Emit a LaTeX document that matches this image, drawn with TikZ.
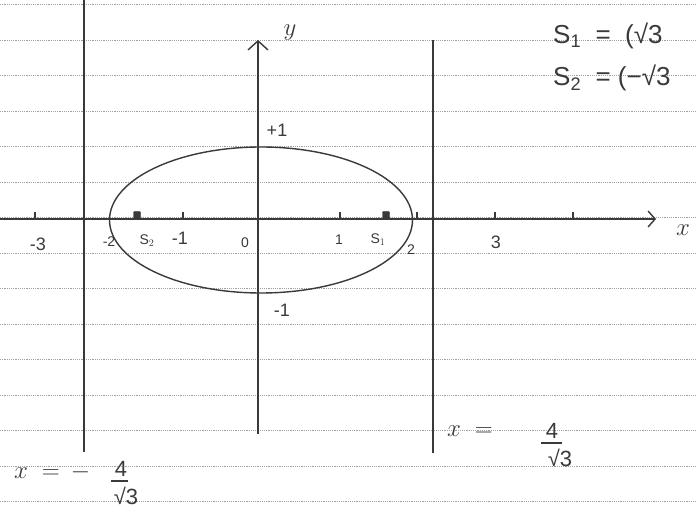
\documentclass[tikz,border=0pt]{standalone}
\usepackage{amsmath}
\usepackage{fontspec}
\setmainfont{Liberation Sans}
\usetikzlibrary{arrows.meta}
\definecolor{ink}{HTML}{3A3A3A}
\definecolor{rulegray}{HTML}{A0A0A0}
\begin{document}
\begin{tikzpicture}[x=1pt,y=-1pt,
  pencil/.style={draw=ink, line width=1.4pt},
  thin/.style={draw=ink, line width=1.3pt},
  ruleline/.style={draw=rulegray, line width=1pt, dash pattern=on 1.2pt off 1pt},
  tick/.style={draw=ink, line width=1.1pt},
  lbl/.style={text=ink, inner sep=0pt, font=\fontsize{18}{20}\selectfont},
  mid/.style={text=ink, inner sep=0pt, font=\fontsize{22}{24}\selectfont},
  big/.style={text=ink, inner sep=0pt, font=\fontsize{28}{32}\selectfont},
  corner/.style={text=ink, inner sep=0pt, font=\fontsize{26}{30}\selectfont},
  small/.style={text=ink, inner sep=0pt, font=\fontsize{14}{16}\selectfont},
  focus/.style={fill=ink, draw=ink, rounded corners=1pt, minimum size=7pt, inner sep=0pt}]
\useasboundingbox (0,0) rectangle (697,518);
\fill[white] (0,0) rectangle (697,518);
\begin{scope}
\clip (0,0) rectangle (697,518);
% ruled paper
\foreach \i in {0,...,14}
  \draw[ruleline] (0,{5+35.5*\i}) -- (697,{5+35.5*\i});

% key points
\coordinate (xstart) at (0,219);
\coordinate (xend) at (656,219);
\coordinate (ybot) at (258,434);
\coordinate (ytop) at (258,40);
\coordinate (dLtop) at (84,0);
\coordinate (dLbot) at (84,452);
\coordinate (dRtop) at (433,40);
\coordinate (dRbot) at (433,453);

% directrices
\draw[pencil] (dLtop) -- (dLbot);
\draw[pencil] (dRtop) -- (dRbot);
% axes
\draw[pencil, -{Straight Barb[length=7pt,width=16pt,line width=1.4pt]}] (xstart) -- (xend);
\draw[pencil, -{Straight Barb[length=9pt,width=20pt,line width=1.4pt]}] (ybot) -- (ytop);

% ellipse
\draw[pencil] (261,220) ellipse [x radius=151.5, y radius=73];

% ticks on x-axis
\foreach \tx in {35,183,340,417,495,573}
  \draw[tick] (\tx,219) -- (\tx,212);

% foci
\node[focus] (S2) at (137,215) {};
\node[focus] (S1) at (386,215) {};

% labels on axes
\node[big] (ylab) at (290,33) {$y$};
\node[big] (xlab) at (683,230) {$x$};
\node[lbl] (p1) at (277,130) {+1};
\node[lbl] (m1y) at (282,310) {-1};
\node[lbl] (m3) at (38,244) {-3};
\node[small] (m2) at (109,242) {-2};
\node[small] (s2lab) at (147,241) {S$_2$};
\node[lbl] (m1) at (180,238) {-1};
\node[small] (zero) at (245,243) {0};
\node[small] (one) at (339,240) {1};
\node[small] (s1lab) at (378,240) {S$_1$};
\node[small] (two) at (411,250) {2};
\node[lbl] (three) at (496,242) {3};

% directrix label, right
\node[big, anchor=base west] (dRx) at (447,437) {$x\;=$};
\node[mid, anchor=south] (dR4) at (552,439) {4};
\draw[thin] (541,443) -- (562,443);
\node[mid, anchor=north] (dRr) at (560,449) {√3};
% directrix label, left
\node[big, anchor=base west] (dLx) at (14,479) {$x\;=\,-$};
\node[mid, anchor=south] (dL4) at (121,477) {4};
\draw[thin] (111,481) -- (128,481);
\node[mid, anchor=north] (dLr) at (126,487) {√3};

% foci values
\node[corner, anchor=base west] (S1val) at (553,44) {S\textsubscript{1}\;\;=\;\;(√3};
\node[corner, anchor=base west] (S2val) at (553,86) {S\textsubscript{2}\;\;=\;(−√3};
\end{scope}
\end{tikzpicture}
\end{document}
